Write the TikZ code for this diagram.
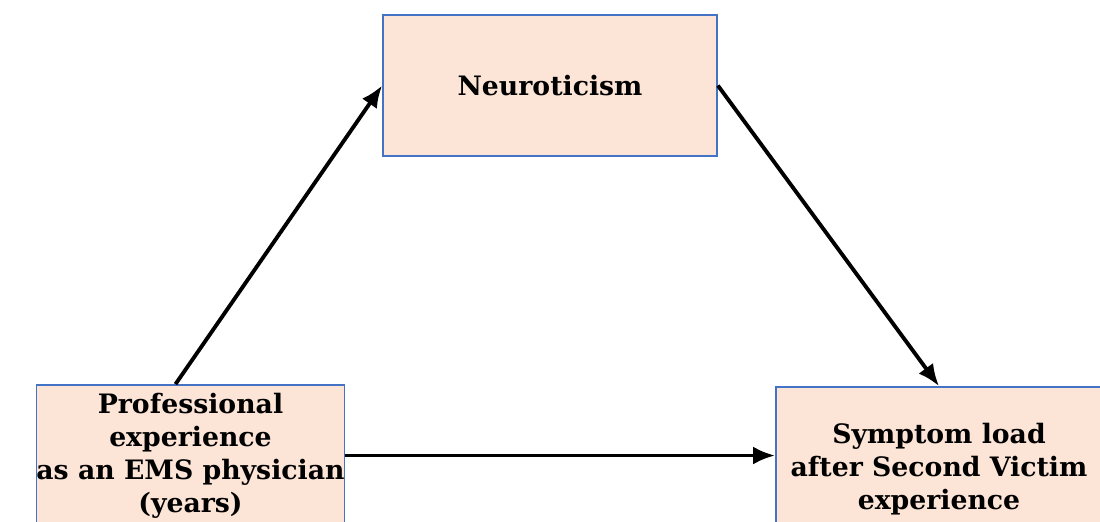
\documentclass[tikz,border=0pt]{standalone}
\usepackage{fontspec}
\setmainfont{DejaVu Serif}
\usepackage{tikz}
\usepackage{xcolor}
\usetikzlibrary{arrows.meta,positioning}
\definecolor{peach}{HTML}{FCE4D6}
\definecolor{edgeblue}{HTML}{4472C4}

\begin{document}
\begin{tikzpicture}[
  vbox/.style={draw=edgeblue,line width=0.5pt,fill=peach,inner xsep=0pt,inner ysep=1pt,minimum height=1.41cm,align=center,font=\fontsize{7.6}{9.4}\selectfont\bfseries},
  arr/.style={-{Latex[length=2.2mm,width=1.8mm]},line width=1.1pt,draw=black}
]
\useasboundingbox (0,0) rectangle (11,5.21);
\clip (0,0) rectangle (11,5.21);
\node[vbox,minimum width=3.34cm] (neuro) at (5.5,4.355) {Neuroticism};
\node[vbox,minimum width=3.05cm] (exp) at (1.905,0.655) {Professional\\experience\\as an EMS physician\\(years)};
\node[vbox,minimum width=3.26cm,minimum height=1.64cm] (load) at (9.39,0.52) {Symptom load\\after Second Victim\\experience};
\draw[arr] ([xshift=-1.5mm]exp.north)--(neuro.west);
\draw[arr] (neuro.east)--(load.north);
\draw[arr] (exp.east)--(exp.east -| load.west);
\end{tikzpicture}
\end{document}
